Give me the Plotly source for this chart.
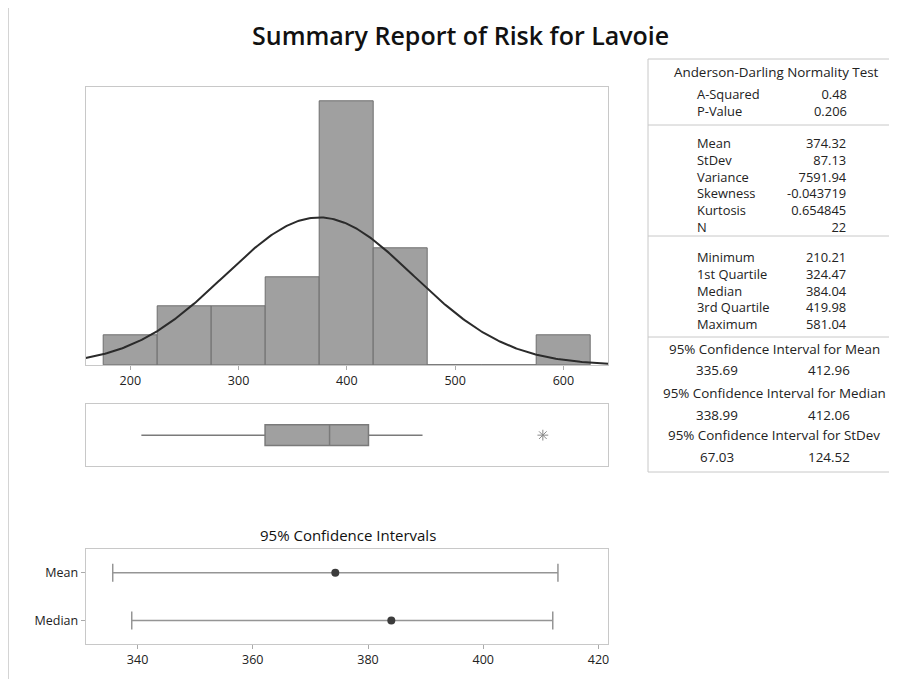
import numpy as np
import plotly.graph_objects as go

# ---------------- data ----------------
bin_centers = [200, 250, 300, 350, 400, 450, 500, 550, 600]
bin_counts = [1, 2, 2, 3, 9, 4, 0, 0, 1]
bin_width = 50

n_obs = 22
mean_val = 374.32
stdev_val = 87.13

box_q1 = 324.47
box_median = 384.04
box_q3 = 419.98
box_low_whisker = 210.21
box_high_whisker = 469.9
box_outliers = [581.04]

ci_labels = ["Mean", "Median"]
ci_centers = [374.32, 384.04]
ci_lower = [335.69, 338.99]
ci_upper = [412.96, 412.06]

ad_labels = ["A-Squared", "P-Value"]
ad_values = ["0.48", "0.206"]
moment_labels = ["Mean", "StDev", "Variance", "Skewness", "Kurtosis", "N"]
moment_values = ["374.32", "87.13", "7591.94", "-0.043719", "0.654845", "22"]
quant_labels = ["Minimum", "1st Quartile", "Median", "3rd Quartile", "Maximum"]
quant_values = ["210.21", "324.47", "384.04", "419.98", "581.04"]
ci_titles = ["95% Confidence Interval for Mean",
             "95% Confidence Interval for Median",
             "95% Confidence Interval for StDev"]
ci_low_text = ["335.69", "338.99", "67.03"]
ci_high_text = ["412.96", "412.06", "124.52"]

hist_ticks = [200, 300, 400, 500, 600]
ci_ticks = [340, 360, 380, 400, 420]

# ---------------- geometry helpers ----------------
OFF = 8  # page body margin
W, H = 897 - OFF, 679 - OFF
def px(x):
    return (x - OFF) / W
def py(y):
    return 1 - (y - OFF) / H

FONT = "Open Sans"
GRID = "#c8c8c8"
TXT = "#222222"

fig = go.Figure()

# histogram
fig.add_trace(go.Bar(x=bin_centers, y=bin_counts, width=bin_width,
                     marker=dict(color="#a0a0a0", line=dict(color="#6e6e6e", width=1)),
                     xaxis="x", yaxis="y", showlegend=False, hoverinfo="skip"))

xs = np.linspace(158.8, 641.5, 300)
ys = n_obs * bin_width * np.exp(-0.5 * ((xs - mean_val) / stdev_val) ** 2) / (stdev_val * np.sqrt(2 * np.pi))
fig.add_trace(go.Scatter(x=xs, y=ys, mode="lines", line=dict(color="#2b2b2b", width=2),
                         xaxis="x", yaxis="y", showlegend=False, hoverinfo="skip"))

# box plot
fig.add_trace(go.Box(q1=[box_q1], median=[box_median], q3=[box_q3],
                     lowerfence=[box_low_whisker], upperfence=[box_high_whisker],
                     y=[0], orientation="h", width=1, whiskerwidth=0,
                     fillcolor="#a0a0a0", line=dict(color="#7a7a7a", width=1.5),
                     xaxis="x2", yaxis="y2", showlegend=False, hoverinfo="skip"))
fig.add_trace(go.Scatter(x=box_outliers, y=[0] * len(box_outliers), mode="markers",
                         marker=dict(symbol="asterisk-open", size=9, color="#8a8a8a",
                                     line=dict(color="#8a8a8a", width=1)),
                         xaxis="x2", yaxis="y2", showlegend=False, hoverinfo="skip"))

# confidence intervals
ci_y = [1, 0]
fig.add_trace(go.Scatter(
    x=ci_centers, y=ci_y, mode="markers",
    marker=dict(color="#3c3c3c", size=8),
    error_x=dict(type="data", symmetric=False,
                 array=[u - c for u, c in zip(ci_upper, ci_centers)],
                 arrayminus=[c - l for l, c in zip(ci_lower, ci_centers)],
                 color="#959595", thickness=1.5, width=9),
    xaxis="x3", yaxis="y3", showlegend=False, hoverinfo="skip"))

axis_common = dict(showline=True, mirror=True, linecolor=GRID, linewidth=1,
                   showgrid=False, zeroline=False)

fig.update_layout(
    width=W, height=H, margin=dict(l=0, r=0, t=0, b=0),
    paper_bgcolor="white", plot_bgcolor="white",
    font=dict(family=FONT, size=12, color=TXT),
    bargap=0,
    xaxis=dict(domain=[px(85.7), px(608.3)], range=[158.8, 641.5], anchor="y",
               tickvals=hist_ticks, ticks="outside", ticklen=4, tickcolor="#aaaaaa",
               tickfont=dict(size=12.5, color=TXT), **axis_common),
    yaxis=dict(domain=[py(365), py(87.3)], range=[0, 9.48], anchor="x",
               showticklabels=False, ticks="", **axis_common),
    xaxis2=dict(domain=[px(85.7), px(608.3)], range=[158.8, 641.5], anchor="y2",
                showticklabels=False, ticks="", **axis_common),
    yaxis2=dict(domain=[py(466), py(404.3)], range=[-1.5, 1.5], anchor="x2",
                showticklabels=False, ticks="", **axis_common),
    xaxis3=dict(domain=[px(85.7), px(608.3)], range=[331.0, 421.7], anchor="y3",
                tickvals=ci_ticks, ticks="outside", ticklen=4, tickcolor="#aaaaaa",
                tickfont=dict(size=12.5, color=TXT), **axis_common),
    yaxis3=dict(domain=[py(644.3), py(549.3)], range=[-0.5, 1.49], anchor="x3",
                tickvals=ci_y, ticktext=ci_labels, ticks="outside", ticklen=4,
                tickcolor="#aaaaaa", tickfont=dict(size=12.5, color=TXT), **axis_common),
)

ann = []
# main title
ann.append(dict(text="Summary Report of Risk for Lavoie", x=px(460), y=py(35),
                font=dict(size=25, color="#111111", family=FONT, weight=600)))
# CI title
ann.append(dict(text="95% Confidence Intervals", x=px(348), y=py(535),
                font=dict(size=15, color="#111111", family=FONT)))

# table
LBL_X = 695
VAL_X = 849
TSZ = 13.4
BSZ = 12.9
ann.append(dict(text="Anderson-Darling Normality Test", x=px(776), y=py(72.5),
                font=dict(size=TSZ, color=TXT)))

def block(labels, values, yc):
    ann.append(dict(text="<br>".join(labels), x=px(LBL_X), y=py(yc), xanchor="left",
                    align="left", font=dict(size=BSZ, color=TXT)))
    ann.append(dict(text="<br>".join(values), x=px(VAL_X), y=py(yc), xanchor="right",
                    align="right", font=dict(size=BSZ, color=TXT)))

block(ad_labels, ad_values, 102.6)
block(moment_labels, moment_values, 185.4)
block(quant_labels, quant_values, 290.5)

for title, lo, hi, (yt, yv) in zip(ci_titles, ci_low_text, ci_high_text,
                                   [(349, 370), (392.5, 415), (435, 457.3)]):
    ann.append(dict(text=title, x=px(774), y=py(yt), font=dict(size=TSZ, color=TXT)))
    ann.append(dict(text=lo, x=px(717), y=py(yv), font=dict(size=TSZ, color=TXT)))
    ann.append(dict(text=hi, x=px(829), y=py(yv), font=dict(size=TSZ, color=TXT)))

for a in ann:
    a.update(xref="paper", yref="paper", showarrow=False)
    a.setdefault("xanchor", "center")
    a["yanchor"] = "middle"
fig.update_layout(annotations=ann)

# decorative frames
shapes = []
shapes.append(dict(type="line", x0=px(8.5), x1=px(8.5), y0=0, y1=1, line=dict(color="#d4d4d4", width=1)))
TL, TT, TB = 648, 59, 472
shapes.append(dict(type="line", x0=px(TL), x1=px(TL), y0=py(TB), y1=py(TT), line=dict(color=GRID, width=1)))
for yy in [TT, 125, 236, 337, TB]:
    shapes.append(dict(type="line", x0=px(TL), x1=1, y0=py(yy), y1=py(yy), line=dict(color=GRID, width=1)))
for s in shapes:
    s.update(xref="paper", yref="paper")
fig.update_layout(shapes=shapes)

fig.write_html("out.html")
